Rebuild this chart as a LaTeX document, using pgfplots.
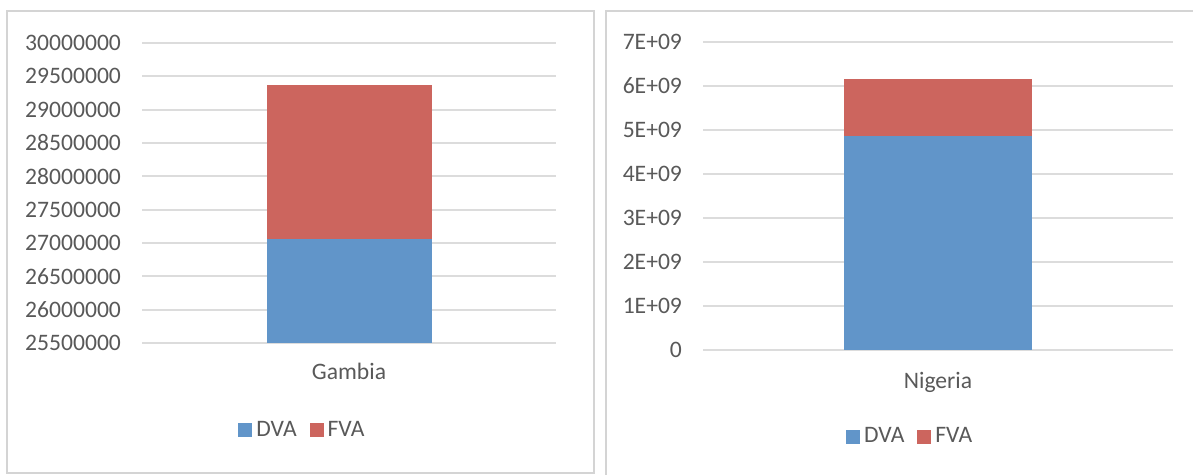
\documentclass[border=0pt]{standalone}
\usepackage{fontspec}
\setmainfont{Carlito}
\usepackage{pgfplots}
\pgfplotsset{compat=1.18}

\definecolor{dva}{HTML}{6195C9}
\definecolor{fva}{HTML}{CC655E}
\definecolor{txt}{HTML}{595959}
\definecolor{gridc}{HTML}{DCDCDC}
\definecolor{framec}{HTML}{D4D4D4}

\newcommand{\chartfont}{\fontsize{11.8}{13}\selectfont}

\pgfplotsset{
  panel/.style={
    scale only axis,
    scaled y ticks=false,
    axis line style={draw=none},
    major tick length=0pt,
    ymajorgrids,
    grid style={gridc, line width=0.9pt},
    ybar stacked,
    xmin=-1, xmax=1,
    xtick={0},
    tick label style={font=\chartfont, text=txt},
    yticklabel style={xshift=-7pt},
    legend style={draw=none, fill=none, legend columns=2,
      font=\chartfont, text=txt, anchor=center,
      /tikz/every even column/.append style={column sep=4.5pt}},
  },
}

\begin{document}
\begin{tikzpicture}
\useasboundingbox (0,0) rectangle (596.5pt,237.5pt);
\clip (0,0) rectangle (596.5pt,237.5pt);

% chart frames
\draw[framec, line width=0.8pt] (3.5pt,1pt) rectangle (297pt,232pt);
\draw[framec, line width=0.8pt] (303pt,-5pt) rectangle (605pt,232pt);

% Gambia
\begin{axis}[panel,
  at={(71pt,66pt)}, anchor=south west,
  width=207pt, height=150pt,
  ymin=25500000, ymax=30000000,
  ytick={25500000,26000000,26500000,27000000,27500000,28000000,28500000,29000000,29500000,30000000},
  yticklabels={25500000,26000000,26500000,27000000,27500000,28000000,28500000,29000000,29500000,30000000},
  xticklabels={Gambia},
  xticklabel style={yshift=-6.7pt},
  bar width=82.5pt,
  legend style={at={(0.39,-0.29)}},
  legend image code/.code={\fill[#1] (0pt,-3.5pt) rectangle (7pt,3.5pt);},
]
\addplot[fill=dva, draw=none] coordinates {(0,27060000)};
\addplot[fill=fva, draw=none] coordinates {(0,2310000)};
\legend{DVA,FVA}
\end{axis}

% Nigeria
\begin{axis}[panel,
  at={(351.5pt,62.5pt)}, anchor=south west,
  width=235pt, height=154pt,
  ymin=0, ymax=7000000000,
  ytick={0,1000000000,2000000000,3000000000,4000000000,5000000000,6000000000,7000000000},
  yticklabels={0,1E+09,2E+09,3E+09,4E+09,5E+09,6E+09,7E+09},
  xticklabels={Nigeria},
  xticklabel style={yshift=-7.7pt},
  bar width=94pt,
  legend style={at={(0.443,-0.282)}},
  legend image code/.code={\fill[#1] (0pt,-3.5pt) rectangle (7pt,3.5pt);},
]
\addplot[fill=dva, draw=none] coordinates {(0,4870000000)};
\addplot[fill=fva, draw=none] coordinates {(0,1280000000)};
\legend{DVA,FVA}
\end{axis}
\end{tikzpicture}
\end{document}
